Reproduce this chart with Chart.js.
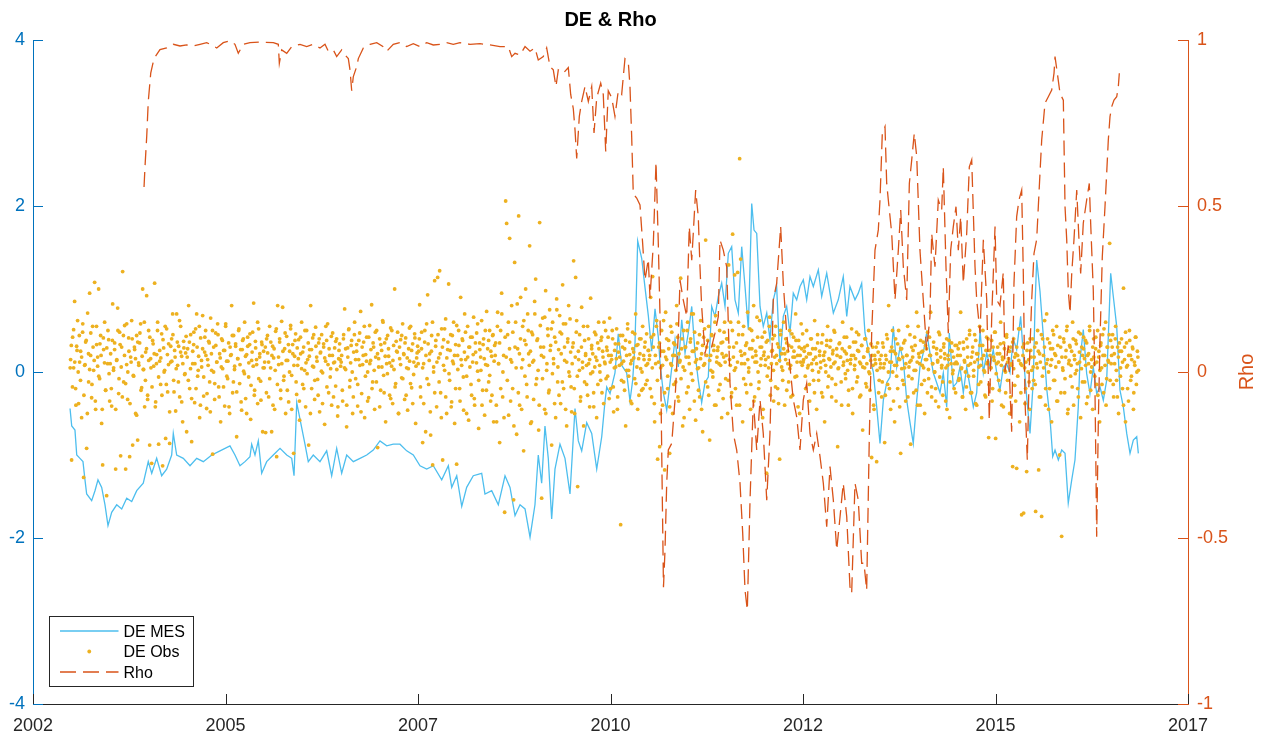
<!DOCTYPE html>
<html>
<head>
<meta charset="utf-8">
<script src="https://cdn.jsdelivr.net/npm/chart.js@4.4.0/dist/chart.umd.min.js"></script>
<style>
html,body{margin:0;padding:0;background:#ffffff;}
#c{display:block;}
</style>
</head>
<body>
<canvas id="c" width="1267" height="735"></canvas>
<script>
// ---------------- DATA ----------------
const chartTitle = 'DE & Rho';
const seriesLabels = ['DE MES', 'DE Obs', 'Rho'];
const rightAxisTitle = 'Rho';
const baseYear = 2002;
const xTickValues = [2002, 2004.5, 2007, 2009.5, 2012, 2014.5, 2017];
const xTickLabels = ['2002', '2005', '2007', '2010', '2012', '2015', '2017'];
const leftTicks = [-4, -2, 0, 2, 4];
const rightTicks = [-1, -0.5, 0, 0.5, 1];

// DE MES: [years since 2002, value]
const mesPts = [
[0.481,-0.44],[0.503,-0.65],[0.545,-0.70],[0.568,-1.00],[0.610,-1.04],[0.649,-1.08],[0.675,-1.30],[0.697,-1.47],
[0.762,-1.55],[0.805,-1.43],[0.844,-1.30],[0.892,-1.39],[0.935,-1.60],[0.974,-1.85],[1.022,-1.69],[1.087,-1.60],
[1.152,-1.65],[1.217,-1.52],[1.282,-1.56],[1.347,-1.43],[1.432,-1.34],[1.497,-1.08],[1.542,-1.22],[1.606,-1.04],
[1.671,-1.25],[1.736,-1.17],[1.801,-1.00],[1.822,-0.74],[1.866,-1.00],[1.952,-1.04],[2.039,-1.13],[2.126,-1.04],
[2.212,-1.08],[2.321,-1.00],[2.429,-0.95],[2.558,-0.89],[2.623,-1.00],[2.688,-1.13],[2.753,-1.08],[2.818,-1.02],
[2.840,-0.87],[2.883,-1.00],[2.926,-0.83],[2.970,-1.22],[3.035,-1.08],[3.121,-1.00],[3.208,-0.92],[3.295,-1.00],
[3.360,-1.04],[3.390,-1.25],[3.425,-0.37],[3.468,-0.57],[3.532,-0.87],[3.575,-1.08],[3.640,-1.00],[3.727,-1.08],
[3.814,-0.95],[3.879,-1.25],[3.944,-0.92],[4.009,-1.22],[4.074,-1.00],[4.160,-1.08],[4.247,-1.04],[4.334,-1.00],
[4.419,-0.94],[4.506,-0.83],[4.594,-0.89],[4.679,-0.87],[4.766,-0.87],[4.853,-0.95],[4.939,-1.00],[5.026,-1.13],
[5.113,-1.17],[5.199,-1.13],[5.308,-1.30],[5.394,-1.13],[5.438,-1.39],[5.503,-1.25],[5.568,-1.62],[5.632,-1.39],
[5.718,-1.25],[5.827,-1.22],[5.870,-1.47],[5.957,-1.43],[6.043,-1.60],[6.130,-1.25],[6.195,-1.39],[6.260,-1.73],
[6.325,-1.60],[6.390,-1.65],[6.455,-1.99],[6.519,-1.60],[6.562,-1.00],[6.606,-1.34],[6.649,-0.65],[6.692,-1.04],
[6.736,-1.77],[6.779,-1.17],[6.844,-0.87],[6.909,-1.04],[6.974,-1.47],[7.039,-0.44],[7.082,-0.83],[7.126,-0.95],
[7.191,-0.61],[7.256,-0.74],[7.321,-1.17],[7.386,-0.78],[7.429,-0.35],[7.451,-0.18],[7.494,-0.26],[7.558,-0.01],
[7.601,0.46],[7.645,0.08],[7.710,-0.01],[7.753,-0.35],[7.788,-0.10],[7.818,0.34],[7.853,1.58],[7.905,1.37],
[7.948,1.02],[7.991,0.68],[8.035,0.25],[8.078,0.76],[8.121,0.42],[8.143,0.11],[8.186,-0.25],[8.230,-0.46],
[8.273,-0.13],[8.338,0.39],[8.381,0.06],[8.425,0.63],[8.468,0.23],[8.510,0.47],[8.555,0.79],[8.597,0.23],
[8.640,-0.10],[8.684,-0.37],[8.727,-0.13],[8.770,-0.06],[8.814,0.79],[8.857,0.67],[8.900,0.91],[8.944,1.07],
[8.987,0.79],[9.030,1.43],[9.074,1.51],[9.117,0.87],[9.160,0.71],[9.204,1.51],[9.247,1.03],[9.290,0.51],
[9.334,2.03],[9.364,1.71],[9.399,1.67],[9.442,0.79],[9.484,0.55],[9.529,0.71],[9.571,0.39],[9.614,0.87],
[9.658,1.03],[9.701,0.11],[9.744,0.67],[9.788,0.79],[9.831,0.47],[9.874,0.95],[9.918,0.87],[9.961,1.03],
[10.004,1.11],[10.048,0.87],[10.091,1.15],[10.134,1.03],[10.199,1.23],[10.243,0.91],[10.308,1.19],[10.351,0.95],
[10.394,0.71],[10.458,0.87],[10.523,1.15],[10.568,0.67],[10.610,1.03],[10.675,0.87],[10.718,0.95],[10.762,1.07],
[10.805,0.47],[10.848,0.27],[10.913,0.00],[10.957,-0.42],[11.000,-0.86],[11.043,-0.34],[11.087,-0.13],[11.130,-0.06],
[11.173,0.55],[11.217,0.06],[11.260,0.30],[11.303,0.14],[11.347,-0.34],[11.390,-0.61],[11.432,-0.86],[11.477,-0.34],
[11.519,0.06],[11.562,0.23],[11.606,0.47],[11.649,0.23],[11.692,-0.01],[11.736,-0.13],[11.779,-0.25],[11.822,-0.01],
[11.866,-0.42],[11.900,0.47],[11.952,-0.18],[11.996,-0.13],[12.039,0.06],[12.082,-0.25],[12.126,0.06],[12.169,-0.18],
[12.212,-0.42],[12.256,-0.25],[12.299,0.51],[12.342,-0.01],[12.386,0.23],[12.429,0.06],[12.471,0.27],[12.516,-0.01],
[12.558,-0.22],[12.601,0.06],[12.645,0.10],[12.688,-0.01],[12.731,0.40],[12.775,0.27],[12.827,0.67],[12.861,0.20],
[12.905,-0.30],[12.948,-0.74],[12.991,-0.10],[13.013,0.79],[13.035,1.35],[13.078,0.97],[13.121,0.43],[13.165,-0.20],
[13.208,-0.56],[13.243,-1.02],[13.273,-0.94],[13.316,-1.06],[13.360,-0.94],[13.403,-0.98],[13.445,-1.58],[13.490,-1.30],
[13.532,-1.06],[13.575,-0.42],[13.597,0.14],[13.640,0.51],[13.684,-0.02],[13.727,-0.26],[13.770,0.06],[13.814,-0.26],
[13.857,-0.18],[13.900,-0.34],[13.944,-0.10],[13.996,1.19],[14.030,0.91],[14.074,0.55],[14.117,-0.22],[14.160,-0.42],
[14.204,-0.74],[14.247,-0.98],[14.290,-0.82],[14.334,-0.78],[14.355,-0.98]
];

// Rho: [years since 2002, value]
const rhoPts = [
[1.442,0.557],[1.455,0.62],[1.477,0.71],[1.497,0.815],[1.529,0.90],[1.571,0.944],[1.649,0.971],[1.736,0.976],
[1.822,0.987],[1.909,0.982],[1.996,0.985],[2.082,0.982],[2.169,0.987],[2.256,0.992],[2.342,0.982],[2.386,0.976],
[2.471,0.992],[2.558,0.998],[2.623,0.987],[2.666,0.96],[2.731,0.987],[2.818,0.992],[2.948,0.994],[3.121,0.992],
[3.186,0.987],[3.199,0.93],[3.230,0.97],[3.295,0.96],[3.360,0.98],[3.468,0.987],[3.555,0.98],[3.640,0.987],
[3.727,0.976],[3.792,0.987],[3.835,0.966],[3.900,0.97],[3.944,0.95],[4.009,0.97],[4.052,0.955],[4.095,0.944],
[4.117,0.91],[4.139,0.847],[4.160,0.89],[4.204,0.92],[4.225,0.944],[4.290,0.976],[4.377,0.987],[4.464,0.992],
[4.549,0.98],[4.594,0.966],[4.679,0.987],[4.766,0.992],[4.853,0.98],[4.939,0.989],[5.026,0.98],[5.113,0.992],
[5.199,0.985],[5.286,0.987],[5.373,0.992],[5.458,0.987],[5.545,0.992],[5.675,0.987],[5.805,0.989],[5.935,0.985],
[6.065,0.98],[6.173,0.98],[6.217,0.95],[6.260,0.96],[6.325,0.955],[6.390,0.98],[6.455,0.966],[6.519,0.976],
[6.562,0.94],[6.627,0.95],[6.671,0.976],[6.714,0.92],[6.757,0.91],[6.792,0.86],[6.822,0.91],[6.887,0.90],
[6.952,0.917],[6.983,0.836],[7.017,0.793],[7.039,0.73],[7.061,0.643],[7.095,0.77],[7.126,0.815],[7.169,0.86],
[7.212,0.815],[7.256,0.86],[7.286,0.72],[7.321,0.826],[7.373,0.87],[7.406,0.836],[7.438,0.664],[7.471,0.847],
[7.516,0.826],[7.558,0.77],[7.601,0.847],[7.645,0.836],[7.688,0.944],[7.731,0.934],[7.753,0.86],[7.775,0.71],
[7.796,0.536],[7.840,0.524],[7.883,0.503],[7.918,0.386],[7.948,0.277],[7.991,0.34],[8.013,0.223],[8.056,0.386],
[8.091,0.632],[8.121,0.386],[8.143,0.17],[8.169,-0.31],[8.188,-0.648],[8.208,-0.536],[8.230,-0.335],[8.251,-0.235],
[8.295,-0.215],[8.338,-0.084],[8.381,0.117],[8.403,0.277],[8.445,0.217],[8.490,0.167],[8.523,0.438],[8.555,0.337],
[8.575,0.418],[8.606,0.548],[8.640,0.468],[8.662,0.317],[8.684,0.197],[8.727,0.056],[8.770,0.096],[8.814,0.076],
[8.857,0.117],[8.900,0.167],[8.922,0.398],[8.965,0.367],[9.009,0.317],[9.052,-0.034],[9.095,-0.185],[9.139,-0.235],
[9.182,-0.335],[9.217,-0.486],[9.247,-0.657],[9.277,-0.717],[9.312,-0.386],[9.355,-0.084],[9.399,-0.235],[9.442,-0.084],
[9.484,-0.185],[9.529,-0.386],[9.571,-0.185],[9.614,0.217],[9.658,0.267],[9.710,0.438],[9.744,0.267],[9.788,0.117],
[9.831,0.016],[9.874,-0.084],[9.918,-0.135],[9.961,-0.235],[10.004,-0.084],[10.048,-0.034],[10.091,-0.185],[10.134,-0.235],
[10.178,-0.185],[10.221,-0.255],[10.264,-0.335],[10.308,-0.466],[10.351,-0.285],[10.394,-0.386],[10.438,-0.536],[10.481,-0.436],
[10.523,-0.335],[10.568,-0.436],[10.610,-0.647],[10.632,-0.667],[10.675,-0.335],[10.718,-0.386],[10.762,-0.576],[10.792,-0.576],
[10.827,-0.657],[10.862,-0.185],[10.892,0.117],[10.935,0.367],[10.978,0.428],[11.000,0.518],[11.030,0.719],[11.065,0.739],
[11.087,0.568],[11.108,0.518],[11.152,0.418],[11.195,0.217],[11.238,0.367],[11.269,0.488],[11.303,0.317],[11.347,0.217],
[11.381,0.568],[11.412,0.639],[11.445,0.719],[11.477,0.649],[11.519,0.367],[11.562,0.217],[11.606,0.066],[11.649,0.167],
[11.671,0.418],[11.714,0.317],[11.757,0.518],[11.801,0.488],[11.822,0.618],[11.857,0.317],[11.887,0.117],[11.918,0.367],
[11.952,0.438],[11.987,0.498],[12.017,0.367],[12.048,0.468],[12.082,0.267],[12.126,0.418],[12.160,0.618],[12.191,0.639],
[12.234,0.317],[12.256,0.217],[12.299,0.117],[12.342,0.398],[12.386,0.217],[12.419,-0.145],[12.451,0.167],[12.494,0.438],
[12.516,0.217],[12.558,0.20],[12.601,0.30],[12.623,0.00],[12.666,0.08],[12.710,-0.18],[12.740,0.267],[12.775,0.468],
[12.805,0.518],[12.840,0.548],[12.861,0.30],[12.883,-0.084],[12.913,-0.265],[12.939,0.016],[12.970,0.217],[13.000,0.357],
[13.035,0.40],[13.078,0.60],[13.100,0.699],[13.143,0.81],[13.186,0.829],[13.230,0.849],[13.260,0.90],[13.273,0.95],
[13.303,0.90],[13.338,0.839],[13.381,0.819],[13.403,0.498],[13.425,0.398],[13.445,0.247],[13.468,0.177],[13.490,0.297],
[13.519,0.398],[13.555,0.548],[13.584,0.398],[13.606,0.297],[13.640,0.448],[13.684,0.518],[13.718,0.568],[13.736,0.448],
[13.770,0.247],[13.792,-0.054],[13.805,-0.305],[13.814,-0.496],[13.835,-0.155],[13.857,0.096],[13.887,0.347],[13.922,0.498],
[13.944,0.599],[13.965,0.699],[13.987,0.769],[14.009,0.799],[14.039,0.819],[14.074,0.829],[14.095,0.859],[14.108,0.90]
];

// DE Obs: observations per period, in time order (spans in years since 2002)
const obsSpans = [[0.48,1],[1,2],[2,3],[3,4],[4,5],[5,6],[6,7],[7,8],[8,9],[9,10],[10,11],[11,12],[12,13],[13,14],[14,14.36]];
const obsY02 = [0.15,-1.06,0.42,0.05,0.85,-0.2,0.31,0.62,-0.38,0.12,0.25,-0.55,0.48,-1.27,0.08,0.36,-0.92,0.71,-0.12,0.95,0.2,-0.31,0.55,0.02,1.08,-0.45,0.33,0.18,1.0,-0.08,0.44,-0.62,-1.12,0.27,0.6,-0.22,-1.49,0.1,0.39,-0.35];
const obsY03 = [0.22,-0.41,0.82,0.05,0.35,-1.17,0.14,0.77,-0.26,0.48,-1.01,0.3,1.21,-0.12,0.56,-1.17,0.09,-0.33,0.41,-1.02,0.18,0.62,-0.88,-0.05,0.27,-0.5,0.44,-0.82,0.11,0.35,0.58,-0.19,1.0,0.03,-0.42,0.24,0.92,-0.28,0.5,-0.88,0.16,-1.1,0.38,0.07,1.07,-0.36,0.21,0.6,-0.87,0.13,-0.15,0.46,-1.13,0.29,0.02,-0.8,0.52,-0.24,0.34,-0.86,0.12,0.4,0.7,-0.1,0.26,-0.47,0.7,0.08,0.31,-0.3,0.55,0.19,-0.6,0.37,-0.03,0.23,-0.72];
const obsY04 = [0.28,0.8,-0.2,0.45,-0.84,0.1,0.33,-0.37,0.52,0.7,-0.05,0.19,-0.55,0.41,0.06,0.68,-0.29,0.24,0.5,-0.44,0.15,0.37,-0.12,0.65,0.02,-0.99,0.3,-0.33,0.47,0.12,0.58,-0.18,0.22,-0.6,0.4,0.04,0.26,-0.41,0.55,0.13,-0.08,0.35,-0.5,0.2,0.8,-0.25,0.44,0.07,0.31,-0.78,0.16,0.5,-0.14,0.27,-0.46,0.38,0.01,0.6,-0.32,0.21,0.42,-0.06,0.33,-0.57,0.14,0.48,0.83,-0.22,0.29,0.09,-0.38,0.52,0.18,-0.11,0.36,-0.72,0.25];
const obsY05 = [0.12,-0.73,0.4,0.23,-0.3,0.55,0.05,-0.72,0.31,0.17,-0.45,0.49,-1.02,0.8,0.09,0.36,-0.22,0.61,0.78,-0.1,0.28,-0.5,0.43,0.14,-0.36,0.25,0.52,-0.04,0.33,-0.98,0.19,0.46,-0.27,0.08,0.39,-0.58,0.22,0.6,-0.15,0.3,0.02,-0.42,0.5,0.15,-0.88,0.27,0.8,-0.2,0.41,0.06,-0.33,0.54,0.18,-0.09,0.35,-0.48,0.24,0.45,-0.01,0.3,-0.63,0.13,0.38,0.58,-0.25,0.2,0.04,-0.4,0.47,0.11,0.29,-0.17,0.4,-0.53,0.16,0.34,0.07];
const obsY06 = [0.2,-0.35,0.45,0.76,0.03,-0.66,0.29,0.51,-0.18,0.11,0.38,-0.5,0.24,0.6,-0.08,0.33,-0.41,0.15,0.47,0.73,-0.26,0.09,0.36,-0.55,0.21,0.42,0.0,-0.31,0.56,0.14,0.81,-0.12,0.3,-0.45,0.18,0.5,-0.91,0.06,0.4,-0.22,0.26,0.62,-0.04,0.35,-0.6,0.1,0.44,0.19,-0.28,0.53,0.07,-0.38,0.32,1.0,-0.14,0.25,0.48,-0.5,0.16,0.39,-0.07,0.58,0.22,-0.33,0.41,0.05,-0.46,0.28,0.13,0.55,-0.19,0.34,-0.03,0.46,-0.62,0.17,0.31];
const obsY07 = [0.25,0.81,-0.3,0.48,-0.85,0.1,0.36,-0.72,0.58,0.93,-0.15,0.22,-0.76,0.44,-1.12,0.06,1.1,0.31,-0.42,1.14,0.17,1.22,-0.25,0.52,-1.06,0.39,0.02,0.64,-0.5,0.27,1.06,-0.1,0.45,-0.36,0.13,0.6,-0.62,0.33,-1.11,0.2,0.5,-0.2,0.9,0.08,0.38,-0.46,0.7,0.15,-0.05,0.55,-0.58,0.3,0.42,-0.28,0.12,0.66,-0.4,0.24,0.47,0.01,-0.68,0.35,0.18,0.62,-0.22,0.4,-0.52,0.09,0.73,0.28,-0.12,0.5,-0.35,0.19,0.44,-0.6,0.32];
const obsY08 = [0.35,-0.6,0.72,0.1,-0.85,0.5,0.95,-0.3,0.2,-1.69,2.06,1.79,0.45,-0.52,1.61,0.15,0.8,-0.2,-1.54,1.32,0.6,-0.75,0.28,1.88,-0.4,0.9,0.05,0.55,-0.95,0.38,1.0,-0.15,0.7,0.22,1.52,-0.62,0.48,0.12,-0.33,0.85,1.12,-0.08,0.4,-0.7,1.8,0.3,-1.52,0.65,0.18,-0.45,0.98,0.02,0.52,-0.25,0.75,0.32,-0.88,0.6,0.1,0.42,-0.55,0.88,-0.12,0.27,0.68,-0.38,0.46,1.05,-0.2,0.14,0.58,-0.65,0.36,0.8,-0.05,0.24,-0.48];
const obsY09 = [0.3,1.34,-0.5,1.14,0.62,-1.38,0.15,0.45,-0.3,0.78,0.05,-0.65,0.38,0.22,-0.15,0.55,0.1,-0.42,0.89,0.28,0.0,-0.25,0.48,0.18,-0.55,0.35,0.6,0.08,-0.1,0.42,0.25,-0.38,0.12,0.5,0.3,-0.05,0.2,0.65,-0.2,0.15,0.4,-0.48,0.26,0.06,0.52,-0.3,0.34,0.18,-1.84,0.1,0.44,-0.12,0.28,-0.65,0.2,0.58,0.02,0.36,-0.35,0.14,0.48,0.24,-0.08,0.7,0.32,-0.45,0.16,0.4,0.04,-0.22,0.55,0.2,0.3,-0.15,0.46,0.1,0.26];
const obsY10 = [0.2,0.9,-0.3,1.15,0.45,-0.6,0.1,0.62,-1.05,0.3,-0.9,0.05,0.5,-0.4,0.25,-1.18,0.72,0.15,-0.2,0.38,-0.98,0.55,0.08,-0.5,0.35,0.2,-0.12,0.8,0.42,-0.35,0.12,1.13,0.28,-0.65,0.5,0.02,0.3,-0.25,0.6,0.18,-0.45,0.4,0.7,-0.1,0.25,0.48,-0.58,0.15,0.35,0.05,-0.3,0.62,0.22,-0.72,0.42,0.1,1.59,0.3,-0.18,0.55,-0.82,0.2,0.45,0.0,0.32,-0.4,0.68,0.12,0.26,-0.22,0.5,0.08,-0.55,0.36,0.18,0.6,-0.08];
const obsY11 = [0.4,-0.5,1.29,0.15,0.6,-0.25,1.66,0.3,1.17,0.05,-0.4,1.2,0.45,2.57,1.36,0.2,-0.6,0.55,0.1,-0.15,0.35,0.72,0.0,0.28,-0.45,0.5,0.18,0.8,-0.3,0.25,0.12,0.42,-0.2,0.62,0.08,0.3,-0.55,0.2,0.48,0.15,-1.22,0.38,0.05,0.66,-0.1,0.25,0.4,-0.35,0.18,0.55,0.1,-0.2,0.3,-1.05,0.45,0.22,0.02,0.6,-0.4,0.15,0.35,0.25,-0.12,0.5,0.08,0.3,-0.28,0.42,0.18,0.7,-0.05,0.2,0.38,-0.5,0.12,0.28,0.46];
const obsY12 = [0.15,0.3,-0.2,0.5,0.05,0.22,-0.35,0.4,0.1,0.28,-0.1,0.62,0.18,-0.45,0.35,0.0,0.25,0.12,-0.25,0.45,0.2,-0.6,0.08,0.32,0.55,-0.05,0.15,0.38,-0.3,0.22,0.1,0.48,-0.15,0.28,-0.9,0.05,0.35,0.18,-0.4,0.6,0.12,0.25,-0.08,0.42,0.02,-0.22,0.3,0.15,0.52,-0.5,0.2,0.08,0.36,-0.12,0.26,0.45,-0.3,0.1,0.32,-0.7,0.18,0.05,0.4,-0.18,0.25,0.5,-0.02,0.14,-1.03,0.3,-0.4,0.2,0.1,-1.08,0.35,-0.25,0.15];
const obsY13 = [0.1,-0.3,0.35,0.05,-0.85,0.2,0.45,-0.15,0.8,0.12,-0.45,0.3,0.0,0.25,-0.6,0.4,0.08,-0.2,0.5,0.15,-0.98,0.28,-0.1,0.35,0.05,-0.35,0.2,0.55,-0.05,0.12,-0.87,0.3,0.18,-0.25,0.42,0.02,0.72,-0.4,0.22,0.1,0.38,-0.15,0.25,0.05,-0.5,0.32,0.15,0.48,-0.08,0.2,0.72,-0.3,0.1,0.36,0.0,-0.2,0.28,0.12,-0.42,0.45,0.18,0.05,-0.12,0.3,0.22,-0.35,0.4,0.08,0.15,-0.55,0.26,0.35,-0.02,0.18,0.1,-0.25,0.32];
const obsY14 = [0.2,-0.1,0.35,0.72,0.05,-0.3,0.28,0.12,-0.45,0.4,0.18,-0.05,0.5,0.1,-0.25,0.3,0.02,0.45,-0.38,0.22,0.15,-0.15,0.55,0.08,-0.55,0.32,0.2,0.0,-0.3,0.42,0.12,-0.79,0.26,0.05,0.38,-0.2,0.18,0.48,-0.8,0.1,0.3,-0.1,0.22,0.6,-0.4,0.15,0.35,0.02,-0.25,0.45,0.12,0.25,-0.5,0.3,0.08,-1.14,0.4,0.18,-0.35,-1.16,0.2,0.52,-0.6,0.1,-1.72,0.3,-1.7,0.05,-0.2,-1.2,0.35,0.15,-0.45,0.26,0.02,0.4,-0.1];
const obsY15 = [0.3,-1.68,0.1,0.5,-1.18,0.22,-0.3,-1.74,0.4,0.05,0.62,-0.2,0.7,0.15,-0.45,0.35,0.08,-0.6,0.28,0.45,-0.1,0.2,0.55,-0.35,0.12,-1.0,0.3,-1.98,0.05,0.4,-0.25,0.18,0.5,-0.5,0.1,0.32,-0.05,0.25,0.6,-0.4,0.15,0.38,0.02,-0.2,0.48,0.12,-0.55,0.3,0.2,0.42,-0.12,0.08,0.35,-0.3,0.22,0.55,0.0,0.15,-0.45,0.4,0.1,0.28,-0.15,0.5,0.18,-0.6,0.32,0.05,0.45,-0.25,0.2,0.6,-0.08,0.3,0.12,1.55,0.38];
const obsY16 = [0.2,0.45,-0.3,0.1,0.55,-0.1,0.3,-0.5,0.25,0.05,0.4,-0.2,1.01,0.15,-0.6,0.35,0.08,-0.35,0.5,0.2,-0.05,0.3,-0.45,0.12,0.42,-0.15,0.25,0.02];
// second observation run per period (denser core of the cloud)
const obsY02b = [0.05,0.32,-0.18,0.51,0.12,-0.4,0.26,0.0,0.44,-0.1,0.18,0.58,-0.28,0.09,0.38,-0.5,0.22,0.03,0.47,-0.15,0.3,0.14,-0.35,0.55,0.07,-0.05,0.34,0.2,-0.45,0.41,0.11,-0.22,0.29,0.5,-0.02];
const obsY03b = [0.1,-0.2,0.38,0.02,0.27,-0.45,0.15,0.5,-0.08,0.33,0.06,-0.3,0.44,0.2,-0.14,0.58,0.0,0.25,-0.38,0.12,0.4,-0.04,0.3,0.16,-0.52,0.36,0.08,0.47,-0.22,0.19,0.03,0.6,-0.1,0.28,-0.33,0.14,0.42,0.05,-0.18,0.34,0.22,-0.42,0.1,0.5,-0.06,0.26,0.17,-0.28,0.39,0.0,0.55,-0.15,0.21,0.09,-0.48,0.31,0.13,0.45,-0.24,0.18,0.04,0.36,-0.12,0.62,0.24,-0.36,0.1,0.29,-0.02,0.43];
const obsY04b = [0.18,-0.1,0.36,0.04,-0.32,0.25,0.48,0.1,-0.2,0.3,0.02,0.55,-0.4,0.14,0.28,-0.06,0.42,0.2,-0.26,0.08,0.35,-0.48,0.22,0.5,0.0,-0.14,0.32,0.12,0.45,-0.3,0.17,0.06,0.38,-0.18,0.26,0.58,-0.05,0.13,-0.42,0.3,0.21,0.44,-0.12,0.03,0.34,-0.24,0.16,0.52,0.09,-0.36,0.27,0.4,-0.02,0.19,-0.5,0.31,0.11,0.46,-0.16,0.24,0.07,-0.28,0.37,0.15,0.6,-0.08,0.22,-0.34,0.33,0.05];
const obsY05b = [0.05,0.3,-0.25,0.44,0.12,-0.08,0.36,0.2,-0.4,0.28,0.02,0.52,-0.15,0.18,0.4,-0.32,0.1,0.25,-0.05,0.47,0.14,-0.22,0.33,0.0,0.56,-0.45,0.22,0.08,0.38,-0.12,0.29,0.16,-0.35,0.42,0.04,0.24,-0.2,0.5,0.11,-0.02,0.35,0.19,-0.5,0.27,0.07,0.45,-0.1,0.31,0.13,-0.28,0.4,0.23,0.01,-0.38,0.34,0.17,0.55,-0.18,0.09,0.28,-0.06,0.43,0.2,-0.3,0.12,0.37,0.03,-0.42,0.26,0.15];
const obsY06b = [0.12,-0.22,0.4,0.05,0.28,-0.4,0.18,0.52,-0.1,0.32,0.0,-0.3,0.45,0.15,0.25,-0.15,0.38,0.08,-0.48,0.3,0.2,0.55,-0.05,0.13,-0.35,0.42,0.1,0.27,-0.2,0.35,0.02,0.48,-0.12,0.22,0.16,-0.42,0.33,0.06,0.6,-0.25,0.19,0.4,-0.02,0.28,0.11,-0.32,0.5,0.14,0.03,-0.18,0.37,0.24,-0.5,0.3,0.09,0.44,-0.08,0.21,0.35,-0.28,0.17,0.04,0.53,-0.14,0.26,-0.38,0.12,0.41,0.07,0.23];
const obsY07b = [0.1,0.4,-0.18,0.28,0.05,-0.38,0.5,0.2,-0.08,0.34,0.14,-0.48,0.25,0.6,0.0,-0.25,0.38,0.12,0.45,-0.12,0.22,-0.55,0.3,0.08,0.52,-0.3,0.17,0.36,-0.02,0.26,-0.42,0.44,0.1,0.2,-0.2,0.56,0.03,0.32,-0.35,0.15,0.4,-0.06,0.24,0.48,-0.5,0.18,0.3,0.06,-0.15,0.42,0.21,-0.32,0.35,0.11,0.58,-0.1,0.27,0.02,-0.4,0.33,0.16,0.5,-0.22,0.08,0.38,-0.04,0.25,-0.28,0.45,0.13];
const obsY08b = [0.2,-0.4,0.55,0.1,0.35,-0.2,0.7,0.0,-0.55,0.42,0.18,-0.1,0.6,0.28,-0.35,0.12,0.48,-0.65,0.3,0.05,0.82,-0.25,0.22,0.4,-0.45,0.15,0.62,-0.05,0.33,-0.3,0.5,0.08,0.25,-0.6,0.45,0.14,0.7,-0.15,0.38,0.02,-0.4,0.56,0.2,-0.08,0.3,0.66,-0.5,0.1,0.44,-0.22,0.26,0.52,-0.02,0.16,-0.38,0.36,0.75,0.06,-0.28,0.48,0.22,-0.12,0.58,0.3,-0.45,0.12,0.4,0.0,0.64,-0.18];
const obsY09b = [0.1,0.35,-0.2,0.18,0.48,-0.05,0.25,0.02,-0.35,0.3,0.12,0.55,-0.12,0.2,0.08,-0.28,0.4,0.15,-0.02,0.32,0.22,-0.42,0.06,0.45,0.14,-0.15,0.28,0.0,0.38,-0.25,0.18,0.6,0.1,-0.08,0.26,0.42,-0.32,0.12,0.2,0.5,-0.18,0.05,0.34,0.16,-0.45,0.24,0.08,0.44,-0.1,0.3,0.13,-0.22,0.38,0.02,0.52,-0.05,0.21,0.1,-0.38,0.28,0.17,0.46,-0.14,0.06,0.33,-0.28,0.22,0.4,0.0,-0.2,0.15,0.36,0.08,-0.1,0.26];
const obsY10b = [0.15,-0.2,0.42,0.05,0.3,-0.38,0.2,0.55,-0.1,0.12,0.35,-0.5,0.25,0.08,0.62,-0.25,0.18,0.4,-0.05,0.28,-0.42,0.1,0.48,0.2,-0.15,0.33,0.02,0.58,-0.3,0.22,0.14,-0.08,0.4,0.06,-0.55,0.3,0.18,0.5,-0.18,0.1,0.36,-0.02,0.25,0.7,-0.35,0.12,0.28,0.04,-0.22,0.45,0.16,-0.45,0.32,0.08,0.52,-0.12,0.2,0.38,-0.28,0.14,0.02,0.44,-0.06,0.26,0.6,-0.4,0.18,0.3,0.1,-0.15,0.35,0.22,-0.32,0.48,0.12];
const obsY11b = [0.2,0.4,-0.1,0.3,0.08,-0.3,0.5,0.18,0.02,-0.2,0.35,0.12,0.6,-0.4,0.25,0.1,0.45,-0.08,0.22,0.32,-0.25,0.15,0.05,0.52,-0.15,0.28,0.38,-0.35,0.12,0.2,0.66,0.0,-0.12,0.3,0.16,0.42,-0.45,0.24,0.08,0.36,-0.05,0.18,0.55,-0.28,0.1,0.26,0.02,0.44,-0.18,0.2,0.34,-0.38,0.14,0.5,0.06,-0.1,0.28,0.22,0.4,-0.22,0.1,0.32,0.04,-0.3,0.46,0.18,0.25,-0.06,0.38,0.12,-0.42,0.3,0.2,0.58,0.08];
const obsY12b = [0.12,0.25,-0.05,0.18,0.32,0.08,-0.15,0.22,0.4,0.02,0.15,-0.25,0.28,0.1,0.45,-0.1,0.2,0.05,0.35,-0.3,0.14,0.24,0.0,0.38,-0.18,0.16,0.3,0.06,-0.08,0.26,0.5,0.12,-0.35,0.2,0.04,0.34,0.18,-0.12,0.28,0.08,0.42,-0.02,0.22,0.14,-0.4,0.3,0.1,0.2,-0.2,0.36,0.03,0.16,0.48,-0.06,0.25,0.12,-0.28,0.32,0.06,0.18,0.4,-0.14,0.1,0.28,0.0,-0.22,0.34,0.2,0.08,-0.45,0.15,0.3,0.02,0.24,-0.1];
const obsY13b = [0.05,0.2,-0.12,0.3,0.1,-0.28,0.15,0.4,0.0,-0.2,0.25,0.12,0.5,-0.35,0.08,0.22,-0.05,0.34,0.16,-0.42,0.28,0.04,0.18,-0.15,0.38,0.1,0.2,-0.3,0.06,0.45,0.14,-0.08,0.26,0.02,0.32,-0.22,0.12,0.55,0.18,-0.4,0.24,0.08,0.36,-0.1,0.15,0.28,-0.25,0.03,0.42,0.2,-0.18,0.1,0.3,0.0,-0.35,0.22,0.14,0.48,-0.06,0.26,0.08,-0.28,0.34,0.16,0.05,-0.45,0.2,0.38,-0.12,0.1,0.25,0.02,-0.2,0.32,0.12];
const obsY14b = [0.1,0.28,-0.08,0.2,0.04,-0.3,0.36,0.14,0.0,-0.18,0.3,0.08,0.45,-0.25,0.18,0.24,-0.05,0.12,0.38,-0.4,0.22,0.06,0.32,-0.12,0.16,0.5,0.02,-0.28,0.26,0.1,0.4,-0.15,0.2,0.05,-0.35,0.3,0.14,0.48,-0.02,0.22,0.12,-0.22,0.34,0.08,0.18,-0.42,0.28,0.0,0.42,-0.1,0.16,0.25,-0.3,0.1,0.36,0.04,-0.16,0.22,0.3,-0.05,0.14,0.52,-0.25,0.08,0.2,0.34,-0.38,0.12,0.26,0.0,-0.12,0.4,0.18,-0.2,0.06];
const obsY15b = [0.18,-0.15,0.35,0.05,0.25,-0.3,0.12,0.45,-0.05,0.2,0.3,-0.4,0.1,0.4,0.0,-0.2,0.28,0.15,0.5,-0.1,0.22,0.06,-0.35,0.32,0.12,0.42,-0.25,0.18,0.02,0.36,-0.08,0.26,0.55,-0.45,0.14,0.3,0.08,-0.18,0.4,0.2,-0.02,0.34,0.1,-0.3,0.24,0.46,0.04,-0.12,0.28,0.16,0.38,-0.38,0.2,0.1,0.5,-0.22,0.06,0.3,0.18,-0.05,0.42,0.12,-0.28,0.25,0.02,0.35,-0.15,0.2,0.52,0.08,-0.4,0.3,0.14,0.45,-0.1];
const obsY16b = [0.1,0.3,-0.15,0.22,0.4,0.02,-0.3,0.18,0.35,-0.05,0.25,0.12,-0.4,0.3,0.48,0.06,-0.2,0.2,0.38,-0.1,0.15,0.28,-0.25,0.08,0.42,0.0,0.18];
const obsGroups = [obsY02,obsY03,obsY04,obsY05,obsY06,obsY07,obsY08,obsY09,obsY10,obsY11,obsY12,obsY13,obsY14,obsY15,obsY16];
const obsGroupsB = [obsY02b,obsY03b,obsY04b,obsY05b,obsY06b,obsY07b,obsY08b,obsY09b,obsY10b,obsY11b,obsY12b,obsY13b,obsY14b,obsY15b,obsY16b];

// ---------------- BUILD ----------------
const mesData = mesPts.map(p => ({x: baseYear + p[0], y: p[1]}));
const rhoData = rhoPts.map(p => ({x: baseYear + p[0], y: p[1]}));
const obsData = [];
[obsGroups, obsGroupsB].forEach((groups, run) => {
  groups.forEach((g, k) => {
    const s0 = obsSpans[k][0], s1 = obsSpans[k][1];
    const step = (s1 - s0) / g.length;
    g.forEach((v, i) => obsData.push({x: baseYear + s0 + (i + (run ? 0.2 : 0.65)) * step, y: v}));
  });
});
obsData.sort((a, b) => a.x - b.x);

const C_MES = '#4DBEEE', C_OBS = '#EDB120', C_RHO = '#D95319', C_LEFT = '#0072BD', C_AX = '#262626';
const FONT = "'Liberation Sans', Arial, Helvetica, sans-serif";
const RHO_DASH = [15, 7];
Chart.defaults.font.family = FONT;

const innerTicks = {
  id: 'innerTicks',
  afterDraw(chart) {
    const ctx = chart.ctx, a = chart.chartArea;
    const xs = chart.scales.x, yl = chart.scales.y, yr = chart.scales.y1;
    const L = 10;
    ctx.save();
    ctx.lineWidth = 1;
    ctx.strokeStyle = C_AX;
    xs.ticks.forEach(t => {
      const p = Math.round(xs.getPixelForValue(t.value)) + 0.5;
      ctx.beginPath(); ctx.moveTo(p, a.bottom); ctx.lineTo(p, a.bottom - L); ctx.stroke();
    });
    ctx.strokeStyle = C_LEFT;
    yl.ticks.forEach(t => {
      const p = Math.round(yl.getPixelForValue(t.value)) + 0.5;
      ctx.beginPath(); ctx.moveTo(a.left, p); ctx.lineTo(a.left + L, p); ctx.stroke();
    });
    ctx.strokeStyle = C_RHO;
    yr.ticks.forEach(t => {
      const p = Math.round(yr.getPixelForValue(t.value)) + 0.5;
      ctx.beginPath(); ctx.moveTo(a.right, p); ctx.lineTo(a.right - L, p); ctx.stroke();
    });
    ctx.restore();
  }
};

const insideLegend = {
  id: 'insideLegend',
  afterDraw(chart) {
    const ctx = chart.ctx, a = chart.chartArea;
    const bx = a.left + 16.5, by = a.bottom - 87.5, bw = 144, bh = 70;
    ctx.save();
    ctx.fillStyle = '#ffffff';
    ctx.fillRect(bx, by, bw, bh);
    ctx.strokeStyle = C_AX; ctx.lineWidth = 1;
    ctx.strokeRect(bx, by, bw, bh);
    const rows = [by + 14.5, by + 35, by + 55.5];
    const x0 = bx + 10.5, x1 = bx + 69, tx = bx + 74;
    ctx.font = '16px ' + FONT;
    ctx.textAlign = 'left'; ctx.textBaseline = 'middle';
    ctx.strokeStyle = C_MES; ctx.lineWidth = 1.3;
    ctx.beginPath(); ctx.moveTo(x0, rows[0]); ctx.lineTo(x1, rows[0]); ctx.stroke();
    ctx.fillStyle = C_OBS;
    ctx.beginPath(); ctx.arc((x0 + x1) / 2, rows[1], 1.9, 0, Math.PI * 2); ctx.fill();
    ctx.strokeStyle = C_RHO; ctx.lineWidth = 1.3; ctx.setLineDash([16, 7]);
    ctx.beginPath(); ctx.moveTo(x0, rows[2]); ctx.lineTo(x1, rows[2]); ctx.stroke();
    ctx.setLineDash([]);
    ctx.fillStyle = '#000000';
    chart.data.datasets.forEach((d, i) => ctx.fillText(d.label, tx, rows[i] + 1.5));
    ctx.restore();
  }
};

const rhoTitle = {
  id: 'rhoTitle',
  afterDraw(chart) {
    const ctx = chart.ctx, a = chart.chartArea;
    ctx.save();
    ctx.translate(a.right + 59, (a.top + a.bottom) / 2);
    ctx.rotate(-Math.PI / 2);
    ctx.font = '20px ' + FONT;
    ctx.fillStyle = C_RHO;
    ctx.textAlign = 'center'; ctx.textBaseline = 'middle';
    ctx.fillText(rightAxisTitle, 0, 0);
    ctx.restore();
  }
};

new Chart(document.getElementById('c'), {
  type: 'line',
  data: {
    datasets: [
      { label: seriesLabels[0], data: mesData, yAxisID: 'y', borderColor: C_MES, backgroundColor: C_MES,
        borderWidth: 1.3, pointRadius: 0, tension: 0, fill: false, order: 3 },
      { label: seriesLabels[1], data: obsData, yAxisID: 'y', showLine: false, borderColor: C_OBS,
        backgroundColor: C_OBS, pointBackgroundColor: C_OBS, pointBorderWidth: 0, pointRadius: 1.9, order: 2 },
      { label: seriesLabels[2], data: rhoData, yAxisID: 'y1', borderColor: C_RHO, backgroundColor: C_RHO,
        borderWidth: 1.3, borderDash: RHO_DASH, pointRadius: 0, tension: 0, fill: false, order: 1 }
    ]
  },
  options: {
    responsive: false,
    animation: false,
    devicePixelRatio: 1,
    layout: { padding: 0 },
    events: [],
    plugins: {
      legend: { display: false },
      tooltip: { enabled: false },
      title: {
        display: true, text: chartTitle, fullSize: false, color: '#000000',
        font: { size: 20, weight: 'bold', family: FONT },
        padding: { top: 8, bottom: 8 }
      }
    },
    scales: {
      x: {
        type: 'linear', position: 'bottom', min: 2002, max: 2017,
        afterBuildTicks: s => { s.ticks = xTickValues.map(v => ({ value: v })); },
        afterFit: s => { s.height = 31; },
        ticks: {
          autoSkip: false, maxRotation: 0, minRotation: 0, padding: 11, color: C_AX,
          font: { size: 18, family: FONT },
          callback: v => { const i = xTickValues.indexOf(v); return i >= 0 ? xTickLabels[i] : ''; }
        },
        grid: { display: false, drawTicks: false },
        border: { display: true, color: C_AX, width: 1 }
      },
      y: {
        type: 'linear', position: 'left', min: -4, max: 4,
        afterBuildTicks: s => { s.ticks = leftTicks.map(v => ({ value: v })); },
        afterFit: s => { s.width = 33; },
        ticks: { padding: 8, color: C_LEFT, font: { size: 18, family: FONT }, callback: v => String(v) },
        grid: { display: false, drawTicks: false },
        border: { display: true, color: C_LEFT, width: 1 }
      },
      y1: {
        type: 'linear', position: 'right', min: -1, max: 1,
        afterBuildTicks: s => { s.ticks = rightTicks.map(v => ({ value: v })); },
        afterFit: s => { s.width = 79; },
        ticks: { padding: 9, color: C_RHO, font: { size: 18, family: FONT }, callback: v => String(v) },
        grid: { display: false, drawTicks: false },
        border: { display: true, color: C_RHO, width: 1 }
      }
    }
  },
  plugins: [innerTicks, insideLegend, rhoTitle]
});
</script>
</body>
</html>
